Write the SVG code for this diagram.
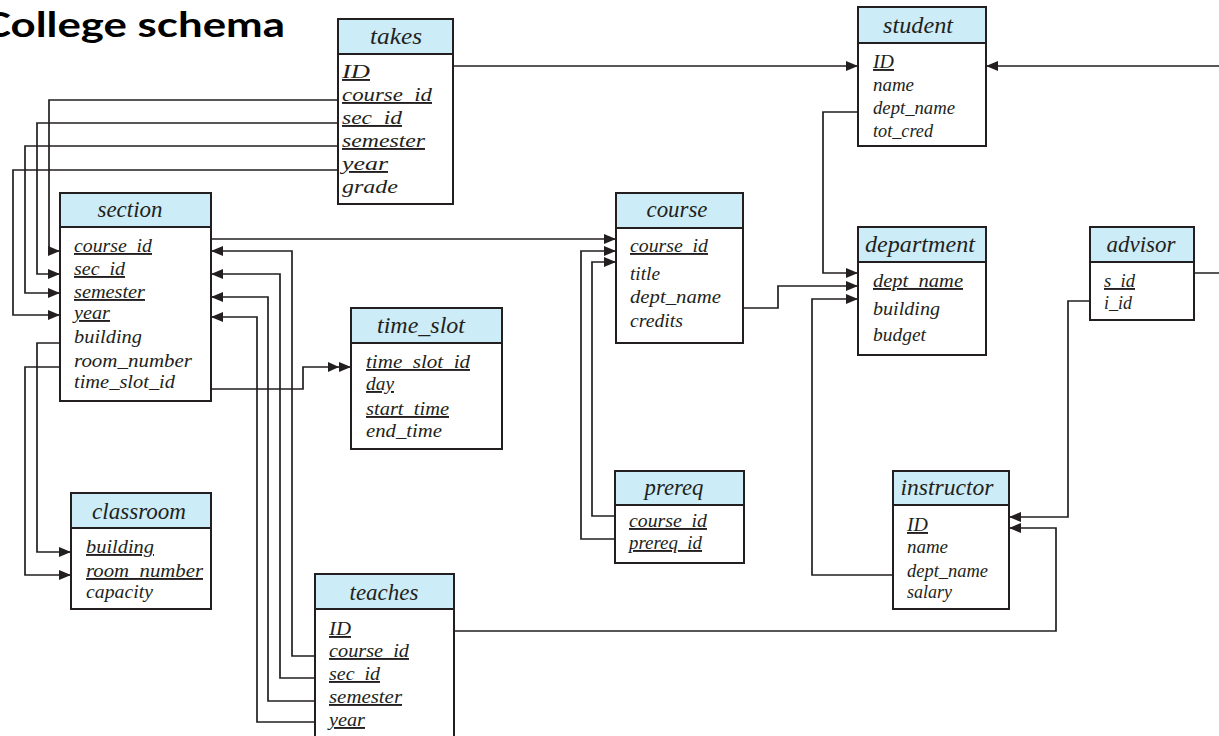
<svg xmlns="http://www.w3.org/2000/svg" width="1219" height="736" viewBox="0 0 1219 736">
<style>
.hd{fill:#ccecf7;stroke:#231f20;stroke-width:2}
.bd{fill:#ffffff;stroke:#231f20;stroke-width:2}
.t{font-family:"Liberation Serif","Times New Roman",serif;font-style:italic;font-size:23px;fill:#231f20;text-anchor:middle}
.a{font-family:"Liberation Serif","Times New Roman",serif;font-style:italic;font-size:19px;fill:#231f20}
.u{text-decoration:underline}
.c path{fill:none;stroke:#231f20;stroke-width:1.7}
.ttl{font-family:Lato,"Open Sans",sans-serif;font-weight:bold;font-size:34px;fill:#000}
</style>
<defs>
<marker id="ar" markerUnits="userSpaceOnUse" markerWidth="12" markerHeight="10" refX="12" refY="5" orient="auto" overflow="visible"><path d="M0,0 L12,5 L0,10 z" fill="#231f20"/></marker>
<marker id="ar2" markerUnits="userSpaceOnUse" markerWidth="23" markerHeight="10" refX="23" refY="5" orient="auto" overflow="visible"><path d="M0,0 L11,5 L0,10 z M11,0 L23,5 L11,10 z" fill="#231f20"/></marker>
</defs>
<rect width="1219" height="736" fill="#ffffff"/>
<text class="ttl" x="-18" y="37" textLength="303" lengthAdjust="spacingAndGlyphs">College schema</text>

<g class="c" id="connectors">
<path d="M453,66 H858" marker-end="url(#ar)"/>
<path d="M338,100 H49 V251 H60" marker-end="url(#ar)"/>
<path d="M338,123 H37 V274 H60" marker-end="url(#ar)"/>
<path d="M338,146 H25 V293 H60" marker-end="url(#ar)"/>
<path d="M338,170 H13 V315 H60" marker-end="url(#ar)"/>
<path d="M211,239 H616" marker-end="url(#ar)"/>
<path d="M315,656 H292 V251 H211" marker-end="url(#ar)"/>
<path d="M315,678 H280 V274 H211" marker-end="url(#ar)"/>
<path d="M315,701 H268 V297 H211" marker-end="url(#ar)"/>
<path d="M315,722 H257 V317 H211" marker-end="url(#ar)"/>
<path d="M211,389 H303 V367 H351" marker-end="url(#ar2)"/>
<path d="M60,343 H37 V552 H71" marker-end="url(#ar)"/>
<path d="M60,367 H25 V575 H71" marker-end="url(#ar)"/>
<path d="M615,516 H592 V262 H616" marker-end="url(#ar)"/>
<path d="M615,539 H581 V251 H616" marker-end="url(#ar)"/>
<path d="M743,308 H778 V286 H858" marker-end="url(#ar)"/>
<path d="M858,112 H823 V273 H858" marker-end="url(#ar)"/>
<path d="M893,575 H812 V299 H858" marker-end="url(#ar)"/>
<path d="M1090,301 H1068 V517 H1009" marker-end="url(#ar)"/>
<path d="M454,631 H1056 V528 H1009" marker-end="url(#ar)"/>
<path d="M1194,273 H1232 V66 H986" marker-end="url(#ar)"/>
</g>

<g id="takes">
<rect class="bd" x="338" y="54" width="115" height="150"/>
<rect class="hd" x="338" y="19" width="115" height="35"/>
<text class="t" x="396" y="44" textLength="52" lengthAdjust="spacingAndGlyphs">takes</text>
<text class="a u" x="342" y="78" textLength="28" lengthAdjust="spacingAndGlyphs">ID</text>
<text class="a u" x="342" y="101" textLength="90" lengthAdjust="spacingAndGlyphs">course_id</text>
<text class="a u" x="342" y="124" textLength="60" lengthAdjust="spacingAndGlyphs">sec_id</text>
<text class="a u" x="342" y="147" textLength="83" lengthAdjust="spacingAndGlyphs">semester</text>
<text class="a u" x="342" y="170" textLength="46" lengthAdjust="spacingAndGlyphs">year</text>
<text class="a" x="342" y="193" textLength="56" lengthAdjust="spacingAndGlyphs">grade</text>
</g>

<g id="student">
<rect class="bd" x="858" y="43" width="128" height="103"/>
<rect class="hd" x="858" y="7" width="128" height="36"/>
<text class="t" x="918" y="33" textLength="70" lengthAdjust="spacingAndGlyphs">student</text>
<text class="a u" x="873" y="68" textLength="21" lengthAdjust="spacingAndGlyphs">ID</text>
<text class="a" x="873" y="91" textLength="41" lengthAdjust="spacingAndGlyphs">name</text>
<text class="a" x="873" y="114" textLength="82" lengthAdjust="spacingAndGlyphs">dept_name</text>
<text class="a" x="873" y="137" textLength="60" lengthAdjust="spacingAndGlyphs">tot_cred</text>
</g>

<g id="department">
<rect class="bd" x="858" y="262" width="128" height="93"/>
<rect class="hd" x="858" y="227" width="128" height="35"/>
<text class="t" x="920" y="252" textLength="110" lengthAdjust="spacingAndGlyphs">department</text>
<text class="a u" x="873" y="287" textLength="90" lengthAdjust="spacingAndGlyphs">dept_name</text>
<text class="a" x="873" y="315" textLength="67" lengthAdjust="spacingAndGlyphs">building</text>
<text class="a" x="873" y="341" textLength="53" lengthAdjust="spacingAndGlyphs">budget</text>
</g>

<g id="advisor">
<rect class="bd" x="1090" y="262" width="104" height="58"/>
<rect class="hd" x="1090" y="227" width="104" height="35"/>
<text class="t" x="1141" y="252" textLength="69" lengthAdjust="spacingAndGlyphs">advisor</text>
<text class="a u" x="1104" y="287" textLength="31" lengthAdjust="spacingAndGlyphs">s_id</text>
<text class="a" x="1104" y="309" textLength="28" lengthAdjust="spacingAndGlyphs">i_id</text>
</g>

<g id="course">
<rect class="bd" x="616" y="228" width="127" height="115"/>
<rect class="hd" x="616" y="193" width="127" height="35"/>
<text class="t" x="677" y="217" textLength="61" lengthAdjust="spacingAndGlyphs">course</text>
<text class="a u" x="630" y="252" textLength="78" lengthAdjust="spacingAndGlyphs">course_id</text>
<text class="a" x="630" y="280" textLength="30" lengthAdjust="spacingAndGlyphs">title</text>
<text class="a" x="630" y="303" textLength="91" lengthAdjust="spacingAndGlyphs">dept_name</text>
<text class="a" x="630" y="327" textLength="53" lengthAdjust="spacingAndGlyphs">credits</text>
</g>

<g id="section">
<rect class="bd" x="60" y="227" width="151" height="174"/>
<rect class="hd" x="60" y="193" width="151" height="34"/>
<text class="t" x="130" y="217" textLength="65" lengthAdjust="spacingAndGlyphs">section</text>
<text class="a u" x="74" y="252" textLength="78" lengthAdjust="spacingAndGlyphs">course_id</text>
<text class="a u" x="74" y="275" textLength="51" lengthAdjust="spacingAndGlyphs">sec_id</text>
<text class="a u" x="74" y="298" textLength="71" lengthAdjust="spacingAndGlyphs">semester</text>
<text class="a u" x="74" y="319" textLength="36" lengthAdjust="spacingAndGlyphs">year</text>
<text class="a" x="74" y="343" textLength="68" lengthAdjust="spacingAndGlyphs">building</text>
<text class="a" x="74" y="367" textLength="118" lengthAdjust="spacingAndGlyphs">room_number</text>
<text class="a" x="74" y="388" textLength="101" lengthAdjust="spacingAndGlyphs">time_slot_id</text>
</g>

<g id="time_slot">
<rect class="bd" x="351" y="343" width="151" height="106"/>
<rect class="hd" x="351" y="308" width="151" height="35"/>
<text class="t" x="421" y="333" textLength="88" lengthAdjust="spacingAndGlyphs">time_slot</text>
<text class="a u" x="366" y="368" textLength="104" lengthAdjust="spacingAndGlyphs">time_slot_id</text>
<text class="a u" x="366" y="390" textLength="28" lengthAdjust="spacingAndGlyphs">day</text>
<text class="a u" x="366" y="415" textLength="83" lengthAdjust="spacingAndGlyphs">start_time</text>
<text class="a" x="366" y="437" textLength="76" lengthAdjust="spacingAndGlyphs">end_time</text>
</g>

<g id="classroom">
<rect class="bd" x="71" y="528" width="140" height="81"/>
<rect class="hd" x="71" y="493" width="140" height="35"/>
<text class="t" x="139" y="519" textLength="94" lengthAdjust="spacingAndGlyphs">classroom</text>
<text class="a u" x="86" y="553" textLength="68" lengthAdjust="spacingAndGlyphs">building</text>
<text class="a u" x="86" y="577" textLength="117" lengthAdjust="spacingAndGlyphs">room_number</text>
<text class="a" x="86" y="598" textLength="67" lengthAdjust="spacingAndGlyphs">capacity</text>
</g>

<g id="prereq">
<rect class="bd" x="615" y="505" width="129" height="58"/>
<rect class="hd" x="615" y="471" width="129" height="34"/>
<text class="t" x="674" y="495" textLength="59" lengthAdjust="spacingAndGlyphs">prereq</text>
<text class="a u" x="629" y="527" textLength="78" lengthAdjust="spacingAndGlyphs">course_id</text>
<text class="a u" x="629" y="549" textLength="73" lengthAdjust="spacingAndGlyphs">prereq_id</text>
</g>

<g id="instructor">
<rect class="bd" x="893" y="505" width="116" height="104"/>
<rect class="hd" x="893" y="471" width="116" height="34"/>
<text class="t" x="947" y="495" textLength="93" lengthAdjust="spacingAndGlyphs">instructor</text>
<text class="a u" x="907" y="531" textLength="21" lengthAdjust="spacingAndGlyphs">ID</text>
<text class="a" x="907" y="553" textLength="41" lengthAdjust="spacingAndGlyphs">name</text>
<text class="a" x="907" y="577" textLength="81" lengthAdjust="spacingAndGlyphs">dept_name</text>
<text class="a" x="907" y="598" textLength="45" lengthAdjust="spacingAndGlyphs">salary</text>
</g>

<g id="teaches">
<rect class="bd" x="315" y="609" width="139" height="140"/>
<rect class="hd" x="315" y="574" width="139" height="35"/>
<text class="t" x="384" y="600" textLength="69" lengthAdjust="spacingAndGlyphs">teaches</text>
<text class="a u" x="329" y="635" textLength="22" lengthAdjust="spacingAndGlyphs">ID</text>
<text class="a u" x="329" y="657" textLength="80" lengthAdjust="spacingAndGlyphs">course_id</text>
<text class="a u" x="329" y="680" textLength="51" lengthAdjust="spacingAndGlyphs">sec_id</text>
<text class="a u" x="329" y="703" textLength="73" lengthAdjust="spacingAndGlyphs">semester</text>
<text class="a u" x="329" y="726" textLength="36" lengthAdjust="spacingAndGlyphs">year</text>
</g>
</svg>
